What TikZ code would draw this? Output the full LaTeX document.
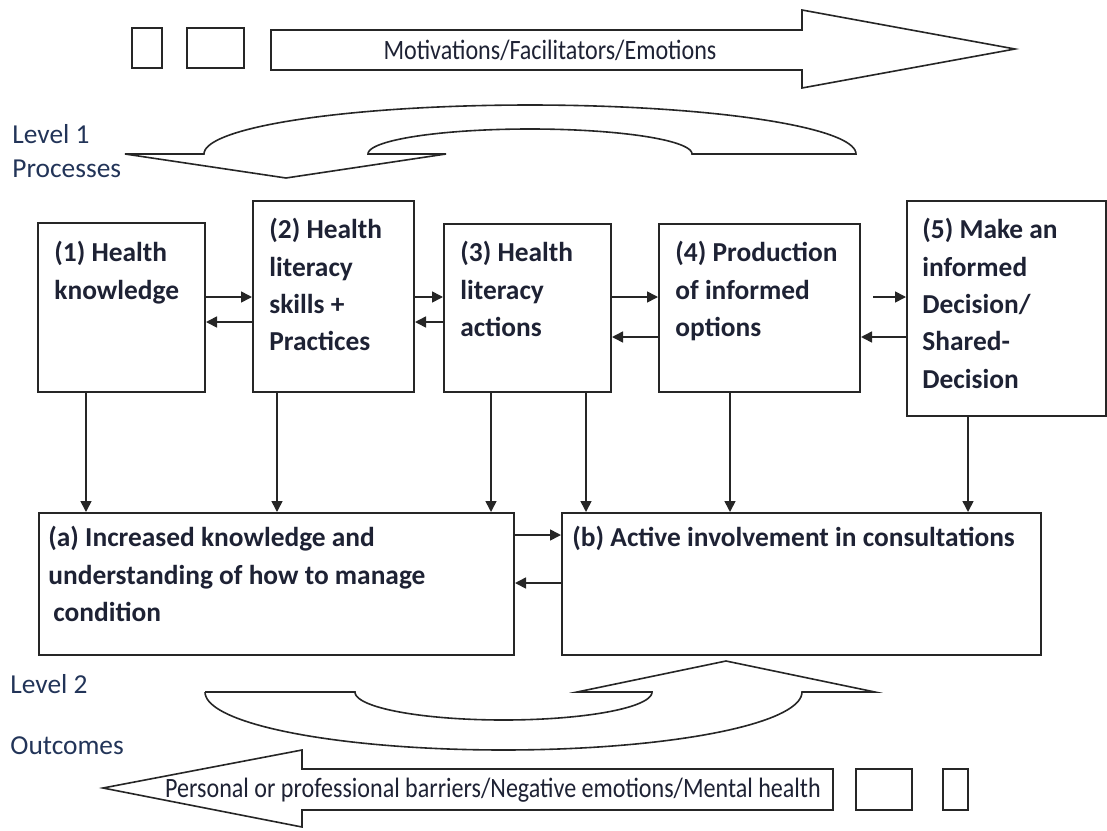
\documentclass[tikz,border=0pt]{standalone}
\usepackage{fontspec}
\setmainfont{Carlito}
\newfontfamily\condfont[FakeStretch=0.86]{Carlito}
\usetikzlibrary{arrows.meta,fit}
\definecolor{txtC}{RGB}{30,34,52}
\definecolor{lvlC}{RGB}{34,52,88}
\tikzset{
  boxS/.style  ={draw=black!85, line width=1pt, inner sep=0pt},
  boxT/.style  ={anchor=north west, inner sep=0pt, align=left, text=txtC,
                 font=\fontsize{13.7}{18.7}\selectfont\bfseries},
  arr/.style   ={draw=black!85, line width=0.8pt, -{Triangle[length=5.5pt,width=5.5pt]}},
  shapeS/.style={draw=black!85, line width=0.8pt, fill=white, line join=miter},
  lvlS/.style  ={anchor=west, inner sep=0pt, text=lvlC, font=\fontsize{13.7}{16}\selectfont},
  bandT/.style ={inner sep=0pt, text=txtC, font=\fontsize{14}{16}\condfont},
  tinyS/.style ={draw=black!85, line width=0.8pt},
}

\begin{document}
\begin{tikzpicture}[x=0.5pt, y=-0.5pt]
  \useasboundingbox (0,0) rectangle (1107,830);
  % top band: motivations
  \draw[tinyS] (132,28) rectangle (162,68);
  \draw[tinyS] (187,28) rectangle (244,68);
  \draw[shapeS] (271,30) -- (802,30) -- (802,10) -- (1015,49) -- (802,88) -- (802,70) -- (271,70) -- cycle;
  \node[bandT] (motiv) at (550,50) {Motivations/Facilitators/Emotions};
  % level labels
  \node[lvlS] (lev1) at (12,134) {Level 1};
  \node[lvlS] (proc) at (12,169) {Processes};
  \node[lvlS] (lev2) at (10,684) {Level 2};
  \node[lvlS] (outc) at (10,746) {Outcomes};
  % curved arrow, level 1
  \draw[shapeS] (125,154) -- (204,154)
    -- plot[domain=180:0, samples=80] ({530+326*cos(\x)}, {154-49*sin(\x)})
    -- (692,154)
    -- plot[domain=0:180, samples=80] ({530+162*cos(\x)}, {154-25*sin(\x)})
    -- (446,154) -- (286,178) -- cycle;
  % process boxes
  \node[boxS, fit={(38,223) (205,392)}]  (b1) {};
  \node[boxS, fit={(253,201) (414,392)}] (b2) {};
  \node[boxS, fit={(444,224) (611,392)}] (b3) {};
  \node[boxS, fit={(659,224) (860,392)}] (b4) {};
  \node[boxS, fit={(907,201) (1106,416)}] (b5) {};
  \node[boxT] (t1) at ([shift={(17,19)}]b1.north west) {(1) Health\\knowledge};
  \node[boxT] (t2) at ([shift={(17,18)}]b2.north west) {(2) Health\\literacy\\skills +\\Practices};
  \node[boxT] (t3) at ([shift={(17,18)}]b3.north west) {(3) Health\\literacy\\actions};
  \node[boxT] (t4) at ([shift={(17,18)}]b4.north west) {(4) Production\\of informed\\options};
  \node[boxT] (t5) at ([shift={(16,18)}]b5.north west) {(5) Make an\\informed\\Decision/\\Shared-\\Decision};
  % outcome boxes
  \node[boxS, fit={(39,513) (514,655)}]  (ba) {};
  \node[boxS, fit={(562,513) (1041,655)}] (bb) {};
  \node[boxT] (ta) at ([shift={(10,14)}]ba.north west) {(a) Increased knowledge and\\understanding of how to manage\\\hspace{2.5pt}condition};
  \node[boxT] (tb) at ([shift={(11,14)}]bb.north west) {(b) Active involvement in consultations};
  % horizontal links
  \draw[arr] (b1.east |- 0,297) -- (b2.west |- 0,297);
  \draw[arr] (b2.west |- 0,322) -- (b1.east |- 0,322);
  \draw[arr] (b2.east |- 0,297) -- (b3.west |- 0,297);
  \draw[arr] (b3.west |- 0,322) -- (b2.east |- 0,322);
  \draw[arr] (b3.east |- 0,297) -- (b4.west |- 0,297);
  \draw[arr] (b4.west |- 0,337) -- (b3.east |- 0,337);
  \coordinate (g45) at ([xshift=6pt]b4.east |- 0,297);
  \draw[arr] (g45) -- (b5.west |- g45);
  \draw[arr] (b5.west |- 0,337) -- (b4.east |- 0,337);
  \draw[arr] (ba.east |- 0,535) -- (bb.west |- 0,535);
  \draw[arr] (bb.west |- 0,583) -- (ba.east |- 0,583);
  % vertical links
  \foreach \src/\dst/\xx in {b1/ba/86, b2/ba/277, b3/ba/491, b3/bb/586, b4/bb/730, b5/bb/968}{
    \draw[arr] (\src.south -| \xx,0) -- (\dst.north -| \xx,0);
  }
  % curved arrow, level 2
  \draw[shapeS] (205,692) -- (355,692)
    -- plot[domain=180:360, samples=80] ({503.5+148.5*cos(\x)}, {692-28*sin(\x)})
    -- (577,692) -- (726,661) -- (875,692) -- (802,692)
    -- plot[domain=360:180, samples=80] ({503.5+298.5*cos(\x)}, {692-58*sin(\x)})
    -- cycle;
  % bottom band: barriers
  \draw[shapeS] (833,769) -- (302,769) -- (302,750) -- (103,788) -- (302,827) -- (302,810) -- (833,810) -- cycle;
  \node[bandT] (barr) at (493,790) {Personal or professional barriers/Negative emotions/Mental health};
  \draw[tinyS] (856,769) rectangle (912,810);
  \draw[tinyS] (943,769) rectangle (968,810);
\end{tikzpicture}
\end{document}
